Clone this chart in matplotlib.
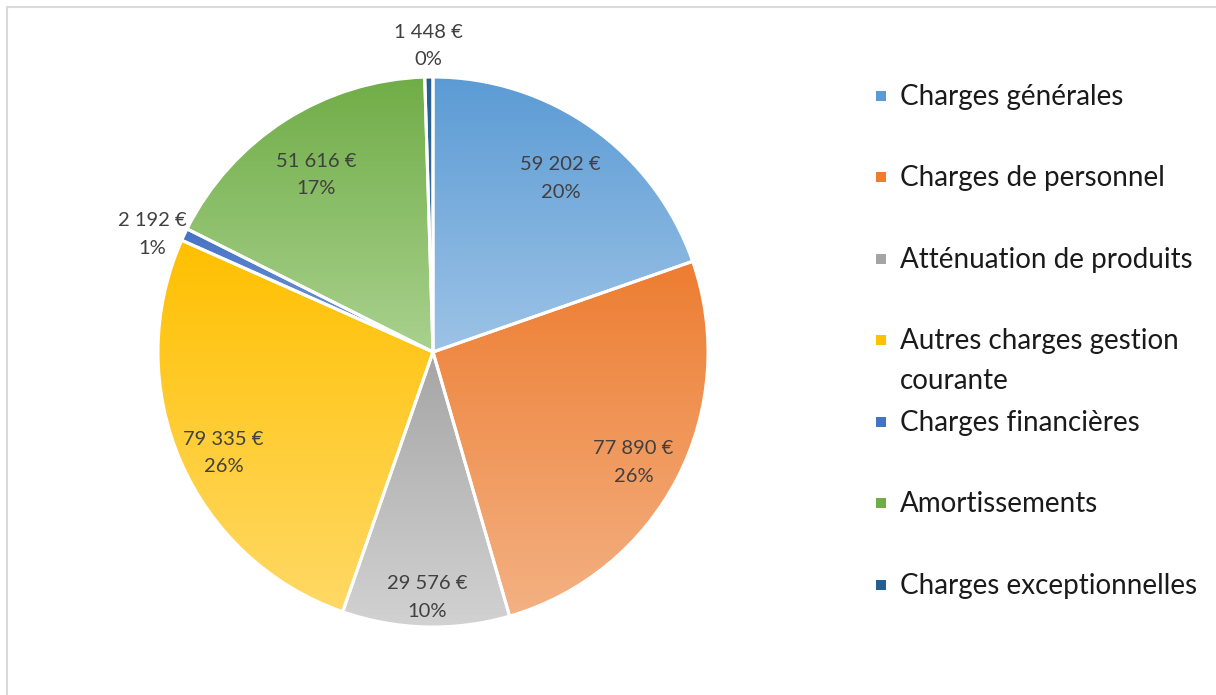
import matplotlib
matplotlib.use("Agg")
import matplotlib.pyplot as plt
import matplotlib.colors as mcolors
from matplotlib.patches import Rectangle
import numpy as np

# Données du graphique
categories = ["Charges générales", "Charges de personnel", "Atténuation de produits",
              "Autres charges gestion\ncourante", "Charges financières",
              "Amortissements", "Charges exceptionnelles"]
montants = [59202, 77890, 29576, 79335, 2192, 51616, 1448]
etiquettes = ["59 202 €", "77 890 €", "29 576 €", "79 335 €", "2 192 €", "51 616 €", "1 448 €"]
pourcentages = ["20%", "26%", "10%", "26%", "1%", "17%", "0%"]

# Couleurs du dégradé (haut -> bas) pour chaque part
couleurs_haut = ["#5B9BD5", "#ED7D31", "#A5A5A5", "#FFC000", "#4472C4", "#70AD47", "#255E91"]
couleurs_bas = ["#9DC3E6", "#F4B183", "#D2D2D2", "#FFD966", "#7F9FD8", "#A9D18E", "#4A7DB0"]

# Placement des étiquettes : distance relative au rayon et petit décalage vertical (px)
dist_etiq = [0.80, 0.82, 0.85, 0.83, 1.13, 0.79, 1.12]
dy_etiq = [-6, -7, -12, -10, -15, -6, -2]

plt.rcParams['font.family'] = ['Lato', 'DejaVu Sans']

W, H = 1216, 695
fig = plt.figure(figsize=(W / 100, H / 100), dpi=100)
ax = fig.add_axes([0, 0, 1, 1])

centre = (433, H - 352)
rayon = 275

wedges, _ = ax.pie(montants, startangle=90, counterclock=False, center=centre,
                   radius=rayon, colors=couleurs_haut,
                   wedgeprops=dict(edgecolor="white", linewidth=2.2))

# Dégradé vertical dans chaque part (comme Excel)
for w, c1, c2 in zip(wedges, couleurs_haut, couleurs_bas):
    verts = w.get_patch_transform().transform(w.get_path().vertices)
    x0, x1 = verts[:, 0].min(), verts[:, 0].max()
    y0, y1 = verts[:, 1].min(), verts[:, 1].max()
    cmap = mcolors.LinearSegmentedColormap.from_list("g", [c2, c1])
    grad = np.linspace(0, 1, 256).reshape(-1, 1)
    im = ax.imshow(grad, extent=(x0, x1, y0, y1), origin="lower", cmap=cmap,
                   aspect="auto", zorder=w.get_zorder() + 0.1, interpolation="bilinear")
    im.set_clip_path(w)
    w.set_facecolor("none")
    w.set_zorder(w.get_zorder() + 0.2)

ax.set_xlim(0, W)
ax.set_ylim(0, H)
ax.axis("off")

# Étiquettes de données
for w, lab, pct, d, dy in zip(wedges, etiquettes, pourcentages, dist_etiq, dy_etiq):
    ang = np.deg2rad((w.theta1 + w.theta2) / 2)
    x = centre[0] + d * rayon * np.cos(ang)
    y = centre[1] + d * rayon * np.sin(ang) + dy
    ax.text(x, y, f"{lab}\n{pct}", ha="center", va="center", fontsize=14.5,
            color="#404040", linespacing=1.75, zorder=10)

# Légende dessinée à la main (le marqueur suit la première ligne)
y_leg = [96, 177, 259, 340, 422, 503, 585]
for yl, cat, c1 in zip(y_leg, categories, couleurs_haut):
    yy = H - yl
    ax.add_patch(Rectangle((876, yy - 5), 10, 10, facecolor=c1, edgecolor="none"))
    for k, ligne in enumerate(cat.split("\n")):
        ax.text(900, yy - 40 * k - 1, ligne, ha="left", va="center", fontsize=20,
                color="#1a1a1a")

# Bordure de la zone du graphique
ax.plot([6.5, 6.5, W], [0, H - 6.5, H - 6.5], color="#D9D9D9", linewidth=1.5, zorder=0)

fig.savefig("out.png", dpi=100)
